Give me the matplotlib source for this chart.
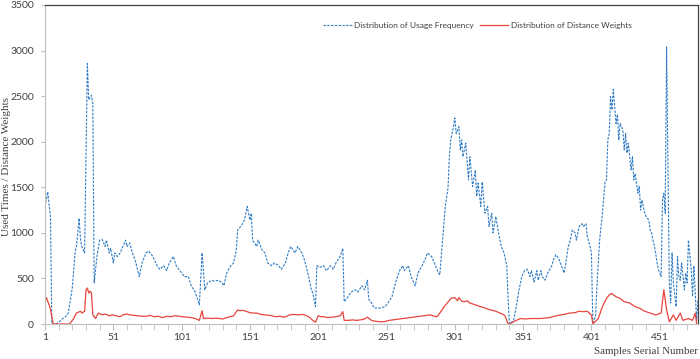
import matplotlib
matplotlib.use("Agg")
import matplotlib.pyplot as plt
from matplotlib.ticker import MultipleLocator

# values (sample number, value)
freq_x = [1, 3, 5, 6, 9, 11, 14, 16, 18, 20, 21, 23, 24, 26, 27, 28, 30, 32, 33, 35, 36, 37, 39, 41, 43, 45,
          46, 48, 49, 51, 52, 54, 56, 58, 60, 61, 63, 65, 67, 70, 72, 75, 77, 80, 83, 85, 88, 90, 92, 95, 97,
          101, 103, 106, 108, 111, 114, 116, 118, 120, 123, 125, 128, 130, 132, 134, 137, 139, 141, 142, 145,
          147, 148, 149, 151, 152, 153, 156, 157, 160, 162, 164, 167, 169, 172, 174, 177, 179, 181, 184, 186,
          189, 191, 194, 196, 197, 199, 200, 202, 205, 207, 210, 212, 214, 217, 219, 220, 222, 225, 228, 230,
          233, 235, 237, 238, 240, 242, 246, 250, 252, 255, 257, 259, 261, 263, 264, 267, 269, 272, 274, 277,
          279, 281, 284, 286, 289, 290, 292, 294, 296, 297, 298, 300, 301, 302, 304, 305, 306, 307, 309, 311,
          312, 314, 316, 317, 318, 320, 321, 323, 325, 326, 328, 329, 331, 333, 335, 337, 339, 340, 341, 344,
          346, 348, 350, 352, 354, 356, 357, 359, 361, 362, 364, 365, 367, 369, 372, 373, 375, 377, 379, 381,
          382, 384, 385, 387, 389, 390, 392, 394, 395, 397, 398, 400, 401, 402, 404, 405, 407, 409, 411, 412,
          413, 414, 415, 416, 417, 419, 420, 421, 422, 424, 425, 426, 427, 428, 430, 431, 432, 433, 435, 436,
          437, 438, 440, 441, 443, 444, 445, 447, 448, 449, 450, 452, 453, 454, 455, 456, 457, 458, 459, 460,
          461, 463, 464, 465, 466, 467, 469, 470, 471, 472, 474, 475, 476, 477, 478, 479]
freq_y = [1290, 1450, 1175, 0, 0, 20, 60, 80, 120, 300, 400, 780, 850, 1160, 920, 850, 780, 2860, 2460, 2510,
          2420, 450, 740, 920, 925, 850, 920, 780, 830, 670, 780, 740, 780, 850, 920, 850, 890, 780, 700, 520,
          670, 780, 800, 740, 640, 600, 640, 585, 670, 740, 640, 560, 520, 520, 420, 350, 210, 780, 375, 450,
          480, 470, 480, 460, 420, 560, 640, 670, 810, 1030, 1085, 1140, 1215, 1290, 1140, 1215, 920, 850, 920,
          810, 780, 670, 640, 670, 640, 600, 670, 780, 850, 780, 850, 780, 700, 520, 375, 340, 190, 640, 620,
          640, 585, 640, 600, 670, 740, 830, 245, 280, 350, 375, 350, 420, 375, 480, 270, 230, 175, 175, 190,
          230, 300, 420, 520, 600, 640, 585, 640, 520, 420, 560, 640, 700, 780, 740, 670, 560, 540, 920, 1290,
          1490, 1835, 2020, 2165, 2260, 2090, 2165, 1910, 2020, 1835, 1985, 1580, 1835, 1510, 1690, 1400, 1545,
          1290, 1560, 1215, 1290, 1070, 1215, 1000, 1180, 1000, 850, 780, 640, 270, 0, 40, 190, 375, 520, 585,
          600, 520, 585, 460, 585, 480, 585, 520, 480, 560, 640, 700, 760, 720, 640, 560, 640, 850, 890, 1030,
          1000, 920, 1070, 1100, 1070, 1100, 960, 850, 780, 20, 80, 420, 920, 1215, 1560, 1580, 2020, 2090,
          2495, 2350, 2575, 2200, 2300, 2020, 2200, 2130, 1910, 2090, 1875, 1985, 1690, 1835, 1580, 1650, 1435,
          1510, 1250, 1360, 1215, 1180, 1140, 1030, 1000, 850, 780, 670, 600, 520, 1360, 1435, 1215, 3040, 1725,
          450, 230, 780, 450, 190, 740, 520, 480, 670, 375, 560, 450, 920, 600, 300, 640, 340, 40, 270]

dist_x = [1, 2, 4, 5, 7, 19, 22, 24, 27, 28, 30, 31, 32, 33, 34, 35, 36, 38, 40, 43, 45, 48, 50, 53, 56, 58,
          61, 63, 66, 69, 72, 75, 78, 81, 84, 87, 90, 93, 96, 99, 102, 105, 108, 111, 114, 116, 117, 120, 123,
          126, 129, 131, 135, 139, 142, 144, 146, 148, 151, 153, 156, 159, 162, 165, 167, 170, 173, 176, 178,
          180, 183, 186, 189, 191, 194, 197, 199, 201, 203, 205, 208, 211, 214, 217, 219, 220, 223, 226, 229,
          232, 235, 237, 240, 243, 246, 249, 253, 258, 263, 268, 273, 278, 283, 286, 288, 290, 294, 296, 298,
          301, 303, 304, 306, 308, 310, 312, 314, 317, 320, 323, 327, 331, 334, 337, 338, 340, 341, 346, 349,
          353, 356, 360, 363, 367, 370, 374, 378, 381, 385, 389, 392, 395, 398, 400, 401, 402, 406, 409, 412,
          414, 416, 417, 419, 422, 425, 429, 433, 436, 440, 444, 448, 452, 454, 456, 458, 461, 463, 466, 468,
          472, 475, 477, 478]
dist_y = [245, 290, 210, 160, 0, 0, 60, 120, 140, 120, 140, 375, 395, 340, 360, 340, 100, 60, 120, 100, 110,
          90, 100, 90, 80, 100, 110, 100, 95, 90, 85, 85, 95, 80, 85, 70, 85, 80, 90, 85, 80, 75, 70, 60, 40,
          146, 60, 65, 60, 65, 60, 55, 75, 90, 155, 146, 150, 140, 125, 120, 120, 105, 100, 95, 90, 80, 85, 75,
          85, 100, 105, 100, 105, 100, 80, 40, 20, 90, 80, 80, 70, 75, 80, 90, 135, 40, 40, 45, 40, 45, 55, 75,
          40, 30, 25, 25, 40, 50, 60, 70, 80, 90, 100, 85, 80, 120, 205, 240, 280, 290, 255, 290, 250, 245, 255,
          230, 220, 205, 190, 175, 155, 140, 120, 100, 80, 0, 0, 40, 60, 55, 60, 60, 60, 65, 70, 85, 100, 105,
          120, 125, 140, 135, 140, 110, 100, 0, 60, 190, 280, 320, 335, 320, 300, 280, 245, 230, 190, 175, 140,
          120, 100, 120, 375, 155, 25, 100, 40, 120, 40, 60, 40, 120, 0]

fig = plt.figure(figsize=(7, 3.59), dpi=100)
ax = fig.add_axes([45/700, 35/359, 653/700, 319/359])

ax.plot(freq_x, freq_y, color='#2E7BC4', lw=0.8, linestyle=(0, (2.2, 1.2)),
        label='Distribution of Usage Frequency')
ax.plot(dist_x, dist_y, color='#E8453C', lw=0.9, label='Distribution of Distance Weights')

ax.set_xlim(1, 479)
ax.set_ylim(0, 3500)
ax.set_xticks([1, 51, 101, 151, 201, 251, 301, 351, 401, 451])
ax.set_xticks(list(range(1, 479, 10)), minor=True)
ax.yaxis.set_major_locator(MultipleLocator(500))

for s in ['left', 'bottom']:
    ax.spines[s].set_color('#BFBFBF')
for s in ['top', 'right']:
    ax.spines[s].set_color('#404040')
    ax.spines[s].set_linewidth(0.9)
ax.tick_params(axis='both', which='both', direction='out', color='#BFBFBF',
               labelsize=7.5, labelcolor='#404040')
ax.tick_params(axis='x', which='both', length=4, pad=2.5)
ax.tick_params(axis='y', length=3, pad=5)
for lab in ax.get_xticklabels() + ax.get_yticklabels():
    lab.set_family('Lato')

fig.text(0.997, 5/359, 'Samples Serial Number', ha='right', va='baseline',
         family='Liberation Serif', fontsize=7.8, color='#404040')
fig.text(0.009, 1 - 166/359, 'Used Times / Distance Weights', rotation=90, ha='center', va='center',
         family='Liberation Serif', fontsize=8, color='#404040')

ax.legend(loc='center', bbox_to_anchor=(0.682, 0.930), bbox_transform=fig.transFigure,
          ncol=2, frameon=False, prop={'family': 'Lato', 'size': 6},
          handlelength=3.4, handletextpad=0.3, columnspacing=0.7, labelcolor='#404040')

fig.savefig('out.png', dpi=100)
